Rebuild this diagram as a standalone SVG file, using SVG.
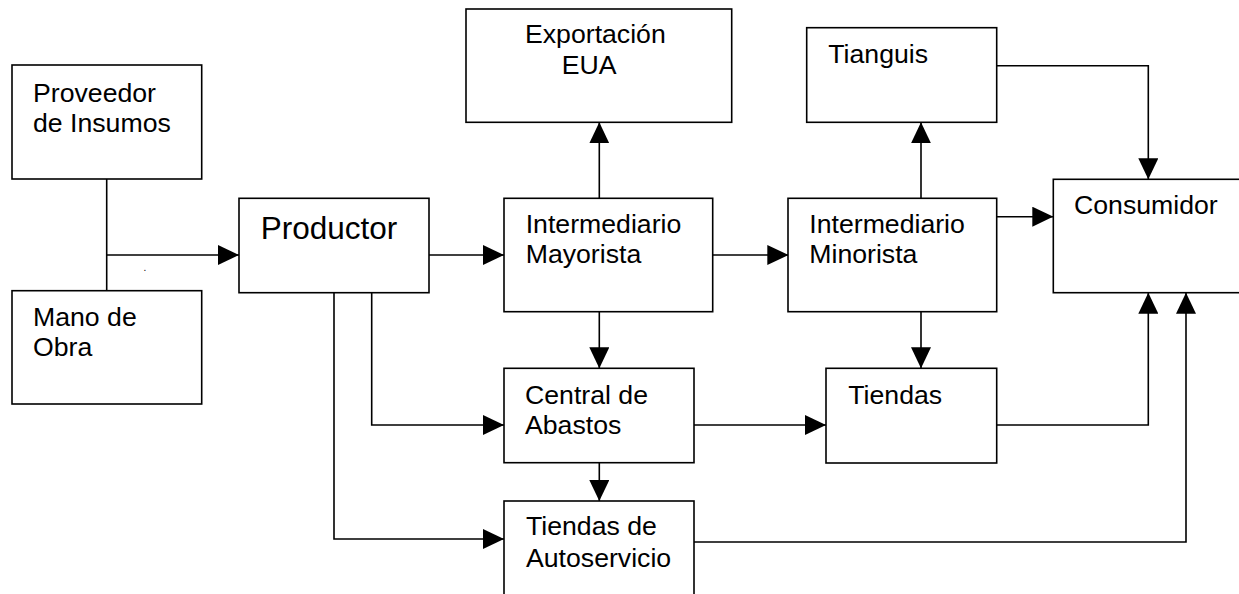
<svg xmlns="http://www.w3.org/2000/svg" width="1239" height="594" viewBox="0 0 1239 594">
<style>
.box{fill:#fff;stroke:#000;stroke-width:1.6}
.t{font-family:"Liberation Sans",Arial,sans-serif;font-size:26.67px;fill:#000}
.big{font-size:31.5px}
.c{fill:none;stroke:#000;stroke-width:1.6}
</style>
<defs>
<marker id="ah" markerUnits="userSpaceOnUse" markerWidth="21" markerHeight="20" refX="21" refY="10" orient="auto">
<path d="M0,0 L21,10 L0,20 Z" fill="#000"/>
</marker>
</defs>
<rect width="1239" height="594" fill="#fff"/>
<g id="connectors">
<path class="c" d="M106.7,179 V293"/>
<path class="c" d="M106.7,255 H239" marker-end="url(#ah)"/>
<path class="c" d="M429,255 H504" marker-end="url(#ah)"/>
<path class="c" d="M599.3,198.3 V122.3" marker-end="url(#ah)"/>
<path class="c" d="M712.7,255 H788.3" marker-end="url(#ah)"/>
<path class="c" d="M921,198.3 V122.3" marker-end="url(#ah)"/>
<path class="c" d="M996.7,65.7 H1148.3 V179.3" marker-end="url(#ah)"/>
<path class="c" d="M996.7,216.7 H1053.3" marker-end="url(#ah)"/>
<path class="c" d="M599.3,311.7 V368.3" marker-end="url(#ah)"/>
<path class="c" d="M921,311.7 V368.3" marker-end="url(#ah)"/>
<path class="c" d="M371.7,292.7 V425 H504" marker-end="url(#ah)"/>
<path class="c" d="M334,292.7 V539 H504" marker-end="url(#ah)"/>
<path class="c" d="M694,425 H826" marker-end="url(#ah)"/>
<path class="c" d="M599.3,462.7 V501" marker-end="url(#ah)"/>
<path class="c" d="M996.7,425 H1148.3 V292.7" marker-end="url(#ah)"/>
<path class="c" d="M694,542 H1186 V292.7" marker-end="url(#ah)"/>
</g>
<text class="t" x="143.5" y="270.5" style="font-size:10px">.</text>
<g id="proveedor">
<rect class="box" x="12" y="65" width="189.7" height="114"/>
<text class="t" x="33" y="101.7">Proveedor</text>
<text class="t" x="33" y="131.7">de Insumos</text>
</g>
<g id="mano">
<rect class="box" x="12" y="290.7" width="189.7" height="113.3"/>
<text class="t" x="33" y="326">Mano de</text>
<text class="t" x="33" y="356">Obra</text>
</g>
<g id="productor">
<rect class="box" x="239" y="198.3" width="190" height="94.4"/>
<text class="t big" x="260.7" y="239.3">Productor</text>
</g>
<g id="exportacion">
<rect class="box" x="466" y="9" width="265.7" height="113.3"/>
<text class="t" x="525" y="43.3">Exportación</text>
<text class="t" x="561.7" y="74">EUA</text>
</g>
<g id="mayorista">
<rect class="box" x="504" y="198.3" width="208.7" height="113.4"/>
<text class="t" x="525.7" y="233.3">Intermediario</text>
<text class="t" x="525.7" y="263.3">Mayorista</text>
</g>
<g id="tianguis">
<rect class="box" x="806.7" y="27.7" width="190" height="94.6"/>
<text class="t" x="828.3" y="62.7">Tianguis</text>
</g>
<g id="minorista">
<rect class="box" x="788" y="198.3" width="208.7" height="113.4"/>
<text class="t" x="809.3" y="233.3">Intermediario</text>
<text class="t" x="809.3" y="263.3">Minorista</text>
</g>
<g id="consumidor">
<rect class="box" x="1053.3" y="179.3" width="195" height="113.4"/>
<text class="t" x="1074" y="214.3">Consumidor</text>
</g>
<g id="central">
<rect class="box" x="504" y="368.3" width="190" height="94.4"/>
<text class="t" x="525" y="404">Central de</text>
<text class="t" x="525" y="434">Abastos</text>
</g>
<g id="tiendas">
<rect class="box" x="826" y="368.3" width="170.7" height="94.7"/>
<text class="t" x="848.3" y="404.3">Tiendas</text>
</g>
<g id="autoservicio">
<rect class="box" x="504" y="501" width="190" height="110"/>
<text class="t" x="526" y="534.5">Tiendas de</text>
<text class="t" x="526" y="566.5">Autoservicio</text>
</g>
</svg>
